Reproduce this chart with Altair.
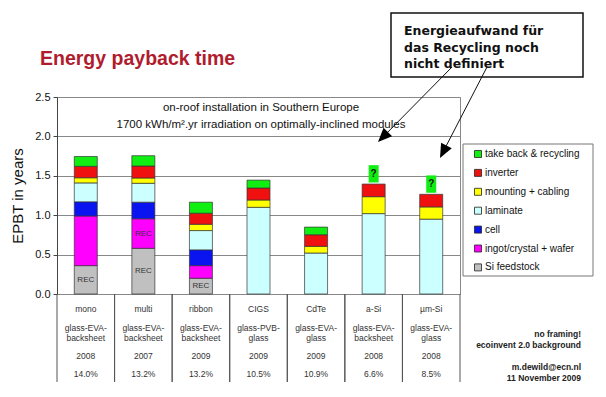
import altair as alt
import pandas as pd

# ---------------- data ----------------
techs = ["mono", "multi", "ribbon", "CIGS", "CdTe", "a-Si", "µm-Si"]
construction_1 = ["glass-EVA-", "glass-EVA-", "glass-EVA-", "glass-PVB-", "glass-EVA-", "glass-EVA-", "glass-EVA-"]
construction_2 = ["backsheet", "backsheet", "backsheet", "glass", "glass", "backsheet", "glass"]
years = ["2008", "2007", "2009", "2009", "2009", "2008", "2008"]
efficiency = ["14.0%", "13.2%", "13.2%", "10.5%", "10.9%", "6.6%", "8.5%"]

# stacking order (bottom -> top)
stack_order = ["Si feedstock", "ingot/crystal + wafer", "cell", "laminate",
               "mounting + cabling", "inverter", "take back & recycling"]
si_feedstock = [0.36, 0.58, 0.20, 0, 0, 0, 0]
ingot_wafer = [0.63, 0.375, 0.16, 0, 0, 0, 0]
cell = [0.18, 0.21, 0.20, 0, 0, 0, 0]
laminate = [0.24, 0.24, 0.245, 1.10, 0.52, 1.02, 0.95]
mounting = [0.065, 0.067, 0.08, 0.093, 0.085, 0.215, 0.155]
inverter = [0.145, 0.152, 0.14, 0.152, 0.147, 0.16, 0.16]
recycling = [0.125, 0.131, 0.14, 0.10, 0.097, None, None]  # None = not defined ("?")

legend_order = ["take back & recycling", "inverter", "mounting + cabling", "laminate",
                "cell", "ingot/crystal + wafer", "Si feedstock"]
legend_colors = ["#11ee11", "#f01010", "#ffff00", "#ccffff", "#0a14f0", "#ff00ff", "#c0c0c0"]

y_ticks = [0, 0.5, 1.0, 1.5, 2.0, 2.5]

rec_labels = [("mono", "Si feedstock"), ("multi", "Si feedstock"),
              ("multi", "ingot/crystal + wafer"), ("ribbon", "Si feedstock")]

# ---------------- tables built from the arrays ----------------
comp_values = {
    "Si feedstock": si_feedstock,
    "ingot/crystal + wafer": ingot_wafer,
    "cell": cell,
    "laminate": laminate,
    "mounting + cabling": mounting,
    "inverter": inverter,
    "take back & recycling": recycling,
}
rows = []
for i, t in enumerate(techs):
    for k, c in enumerate(stack_order):
        v = comp_values[c][i]
        if v:
            rows.append(dict(tech=t, component=c, value=v, order=k))
bars = pd.DataFrame(rows)

# REC label positions = middle of the segment
rec_rows = []
for t, c in rec_labels:
    i = techs.index(t)
    below = sum((comp_values[s][i] or 0) for s in stack_order[:stack_order.index(c)])
    rec_rows.append(dict(tech=t, mid=below + comp_values[c][i] / 2, label="REC"))
rec_df = pd.DataFrame(rec_rows)

# "?" boxes where recycling is undefined
q_gap, q_h = 0.02, 0.22
q_rows = []
for i, t in enumerate(techs):
    if recycling[i] is None:
        tot = sum((comp_values[s][i] or 0) for s in stack_order)
        q_rows.append(dict(tech=t, qlo=tot + q_gap, qhi=tot + q_gap + q_h,
                           qmid=tot + q_gap + q_h / 2, label="?"))
q_df = pd.DataFrame(q_rows)

table = pd.DataFrame(dict(tech=techs, c1=construction_1, c2=construction_2,
                          year=years, eff=efficiency))

# ---------------- chart ----------------
W, H = 403, 197
YT = "EPBT in years"
one = alt.Data(values=[{"a": 1}])

xscale = alt.Scale(domain=techs, paddingInner=0, paddingOuter=0)
X = alt.X("tech:N", sort=techs, scale=xscale, axis=None)
yscale = alt.Scale(domain=[0, 2.5], nice=False, zero=True)
yaxis = alt.Axis(values=y_ticks, format=".1f", title=YT)


def Y(field, **kw):
    return alt.Y(field, scale=yscale, axis=yaxis, title=YT, **kw)


bar_layer = alt.Chart(bars).mark_bar(size=23, stroke="#333", strokeWidth=0.7).encode(
    x=X,
    y=Y("value:Q", stack="zero"),
    color=alt.Color("component:N",
                    scale=alt.Scale(domain=legend_order, range=legend_colors),
                    legend=alt.Legend(title=None, orient="none", legendX=416, legendY=52,
                                      symbolType="square", symbolSize=49,
                                      symbolStrokeColor="#222", symbolStrokeWidth=0.8,
                                      labelFont="Liberation Sans", labelFontSize=10,
                                      labelColor="#111", rowPadding=6.9, padding=0,
                                      labelOffset=2, symbolOpacity=1)),
    order=alt.Order("order:Q", sort="ascending"),
)

rec_layer = alt.Chart(rec_df).mark_text(font="Liberation Sans", fontSize=8, color="#333").encode(
    x=X, y=Y("mid:Q"), text="label:N")

q_bar = alt.Chart(q_df).mark_bar(size=10, color="#11ee11").encode(
    x=X, y=Y("qlo:Q"), y2="qhi:Q")
q_text = alt.Chart(q_df).mark_text(font="Liberation Sans", fontSize=10, fontWeight="bold",
                                   color="#111").encode(
    x=X, y=Y("qmid:Q"), text="label:N")

# table under the plot
tfont = dict(font="Liberation Sans", fontSize=8.5, color="#333")
t_rows = []
for field, ypix in [("tech", 212), ("c1", 231), ("c2", 241), ("year", 259), ("eff", 277)]:
    t_rows.append(alt.Chart(table).mark_text(**tfont).encode(
        x=X, y=alt.value(ypix), text=f"{field}:N"))
vlines0 = alt.Chart(table).mark_rule(color="#555", strokeWidth=1).encode(
    x=alt.X("tech:N", sort=techs, scale=xscale, axis=None, bandPosition=0),
    y=alt.value(H), y2=alt.value(285))
vlines1 = alt.Chart(table).mark_rule(color="#555", strokeWidth=1).encode(
    x=alt.X("tech:N", sort=techs, scale=xscale, axis=None, bandPosition=1),
    y=alt.value(H), y2=alt.value(285))

# texts / annotations
subtitle = alt.Chart(one).mark_text(
    text=["on-roof installation in Southern Europe",
          "1700 kWh/m².yr irradiation on optimally-inclined modules"],
    font="Liberation Sans", fontSize=11.5, color="#111", lineHeight=17, baseline="middle"
).encode(x=alt.value(204), y=alt.value(11))

title = alt.Chart(one).mark_text(
    text="Energy payback time", font="Liberation Sans", fontSize=19.5, fontWeight="bold",
    color="#b01c2e", align="left", baseline="alphabetic"
).encode(x=alt.value(-17), y=alt.value(-32))

note_box = alt.Chart(one).mark_rect(fillOpacity=0, stroke="#111", strokeWidth=1.5).encode(
    x=alt.value(334), x2=alt.value(526), y=alt.value(-84), y2=alt.value(-20))
note_text = alt.Chart(one).mark_text(
    text=["Energieaufwand für", "das Recycling noch", "nicht definiert"],
    font="DejaVu Sans", fontSize=12.5, fontWeight="bold", color="#111",
    align="left", baseline="alphabetic", lineHeight=16.5
).encode(x=alt.value(347), y=alt.value(-62))

arrow1 = alt.Chart(one).mark_rule(color="#111", strokeWidth=1).encode(
    x=alt.value(395), y=alt.value(-30), x2=alt.value(325), y2=alt.value(41))
arrow2 = alt.Chart(one).mark_rule(color="#111", strokeWidth=1).encode(
    x=alt.value(430), y=alt.value(-30), x2=alt.value(385), y2=alt.value(57))
head_shape = "M0,0L-0.6,-1.4L0.6,-1.4Z"
head1 = alt.Chart(one).mark_point(shape=head_shape, size=400, filled=True, color="#000",
                                  opacity=1, angle=44.6).encode(
    x=alt.value(321), y=alt.value(45))
head2 = alt.Chart(one).mark_point(shape=head_shape, size=400, filled=True, color="#000",
                                  opacity=1, angle=27.3).encode(
    x=alt.value(383), y=alt.value(61))

legend_box = alt.Chart(one).mark_rect(fillOpacity=0, stroke="#777", strokeWidth=1).encode(
    x=alt.value(406), x2=alt.value(536), y=alt.value(47), y2=alt.value(179))

side_text = alt.Chart(one).mark_text(
    text=["no framing!", "ecoinvent 2.0 background"],
    font="Liberation Sans", fontSize=8.5, fontWeight="bold", color="#222",
    align="right", baseline="middle", lineHeight=11
).encode(x=alt.value(524), y=alt.value(237))
side_text2 = alt.Chart(one).mark_text(
    text=["m.dewild@ecn.nl", "11 November 2009"],
    font="Liberation Sans", fontSize=8.5, fontWeight="bold", color="#222",
    align="right", baseline="middle", lineHeight=11
).encode(x=alt.value(524), y=alt.value(270))

chart = alt.layer(
    bar_layer, rec_layer, q_bar, q_text, *t_rows, vlines0, vlines1,
    subtitle, title, legend_box, note_box, note_text, arrow1, arrow2, head1, head2,
    side_text, side_text2,
).properties(
    width=W, height=H,
    autosize=alt.AutoSizeParams(type="none"),
    padding={"left": 49, "top": 89, "right": 138, "bottom": 95},
    background="white",
).configure_view(
    stroke="#888", strokeWidth=1
).configure_axisY(
    domainColor="#444", tickColor="#444", tickSize=4, labelFont="Liberation Sans",
    labelFontSize=11, labelColor="#111", labelPadding=3, labelOverlap=False,
    titleFont="Liberation Sans", titleFontSize=15, titleFontWeight="normal",
    titleColor="#111", titlePadding=9, gridColor="#888", gridWidth=1,
)

chart.save("out.html", embed_options={"renderer": "svg", "actions": False})
